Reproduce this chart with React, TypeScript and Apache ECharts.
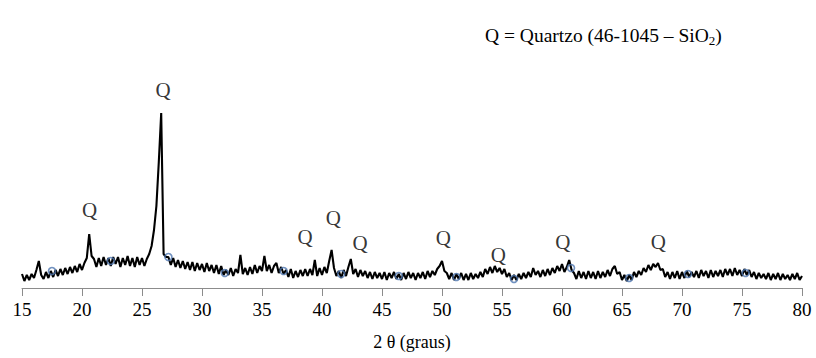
import React, { useEffect, useRef } from "react";
import * as echarts from "echarts";

// 2θ start / step of the diffractogram (degrees)
const thetaStart = 15;
const thetaStep = 0.2;

// Intensity (arbitrary units), one value per 0.2° from 15° to 80°
const intensity: number[] = [
  // 15
  14, 7, 13, 8, 14,
  // 16
  10, 18, 27, 13, 9,
  // 17
  16, 10, 17, 11, 18,
  // 18
  12, 19, 13, 20, 14,
  // 19
  21, 15, 22, 16, 24,
  // 20
  18, 25, 30, 54, 32,
  // 21
  29, 21, 30, 22, 31,
  // 22
  23, 30, 22, 31, 24,
  // 23
  31, 21, 30, 23, 32,
  // 24
  22, 30, 21, 31, 23,
  // 25
  30, 22, 29, 34, 42,
  // 26
  58, 82, 126, 175, 34,
  // 27
  31, 31, 23, 30, 21,
  // 28
  28, 20, 27, 19, 26,
  // 29
  18, 26, 17, 25, 18,
  // 30
  24, 16, 25, 17, 23,
  // 31
  15, 23, 14, 22, 13,
  // 32
  18, 13, 20, 12, 19,
  // 33
  15, 33, 14, 20, 13,
  // 34
  21, 14, 23, 15, 22,
  // 35
  17, 32, 17, 23, 15,
  // 36
  22, 25, 15, 21, 14,
  // 37
  18, 11, 19, 10, 17,
  // 38
  11, 18, 12, 19, 12,
  // 39
  19, 13, 28, 12, 20,
  // 40
  13, 21, 15, 27, 38,
  // 41
  20, 12, 17, 10, 18,
  // 42
  12, 21, 29, 14, 19,
  // 43
  11, 18, 12, 17, 10,
  // 44
  16, 9, 16, 10, 15,
  // 45
  9, 16, 8, 15, 10,
  // 46
  16, 9, 14, 8, 15,
  // 47
  9, 16, 10, 15, 8,
  // 48
  15, 10, 16, 9, 17,
  // 49
  11, 17, 13, 19, 22,
  // 50
  27, 17, 15, 9, 15,
  // 51
  8, 14, 9, 15, 8,
  // 52
  14, 8, 15, 9, 14,
  // 53
  10, 16, 11, 19, 14,
  // 54
  21, 15, 22, 16, 20,
  // 55
  14, 19, 11, 15, 8,
  // 56
  13, 8, 14, 9, 15,
  // 57
  10, 16, 11, 20, 13,
  // 58
  17, 11, 18, 12, 19,
  // 59
  13, 20, 15, 22, 17,
  // 60
  24, 16, 21, 28, 18,
  // 61
  15, 9, 17, 10, 16,
  // 62
  9, 17, 10, 16, 9,
  // 63
  17, 10, 16, 11, 18,
  // 64
  12, 19, 22, 14, 16,
  // 65
  8, 13, 7, 13, 8,
  // 66
  16, 11, 17, 13, 20,
  // 67
  16, 23, 18, 24, 21,
  // 68
  25, 18, 19, 11, 16,
  // 69
  9, 16, 10, 17, 9,
  // 70
  16, 10, 17, 11, 16,
  // 71
  11, 17, 10, 18, 12,
  // 72
  17, 10, 18, 11, 17,
  // 73
  12, 18, 11, 19, 13,
  // 74
  19, 12, 20, 13, 18,
  // 75
  12, 19, 13, 18, 11,
  // 76
  16, 9, 15, 10, 14,
  // 77
  9, 15, 8, 14, 9,
  // 78
  15, 8, 14, 9, 13,
  // 79
  8, 14, 9, 15, 8,
  // 80
  12,
];

// Blue hollow marker positions (2θ) and their intensities
const markerTheta = [17.5, 22.4, 27.2, 31.9, 36.8, 41.6, 46.4, 51.2, 56.0, 60.75, 65.6, 70.5, 75.3];
const markerValue = [17, 27, 31, 15, 17, 14, 12, 11, 9, 20, 10, 14, 15];

// "Q" peak annotations (2θ, height of label centre)
const qTheta = [20.64, 26.75, 38.58, 40.94, 43.17, 50.11, 54.69, 60.06, 68.03];
const qHeight = [78, 198, 51, 70, 45, 50, 33, 46, 46];

// Axis ticks
const xMin = 15;
const xMax = 80;
const xInterval = 5;

const SERIF = "'Liberation Serif', 'DejaVu Serif', serif";

export default function App() {
  const ref = useRef<HTMLDivElement>(null);

  useEffect(() => {
    if (!ref.current) return;
    const chart = echarts.init(ref.current, undefined, { renderer: "svg" });

    const lineData = intensity.map((v, i) => [
      +(thetaStart + i * thetaStep).toFixed(2),
      v,
    ]);
    const markerData = markerTheta.map((t, i) => [t, markerValue[i]]);
    const qData = qTheta.map((t, i) => [t, qHeight[i]]);

    chart.setOption({
      animation: false,
      backgroundColor: "#ffffff",
      grid: { left: 22, right: 14, top: 88, bottom: 70 },
      xAxis: {
        type: "value",
        min: xMin,
        max: xMax,
        interval: xInterval,
        name: "2 θ (graus)",
        nameLocation: "middle",
        nameGap: 45,
        nameTextStyle: { fontFamily: SERIF, fontSize: 18, color: "#000" },
        axisLine: { show: true, onZero: false, lineStyle: { color: "#8c8c8c", width: 1 } },
        axisTick: { show: true, inside: false, length: 8, lineStyle: { color: "#8c8c8c" } },
        axisLabel: { fontFamily: SERIF, fontSize: 19, color: "#000", margin: 12 },
        splitLine: { show: false },
      },
      yAxis: {
        type: "value",
        min: 0,
        max: 200,
        show: false,
        splitLine: { show: false },
      },
      series: [
        {
          type: "line",
          data: lineData,
          showSymbol: false,
          symbol: "none",
          lineStyle: { color: "#000", width: 2.1 },
          clip: false,
          z: 2,
        },
        {
          type: "scatter",
          data: markerData,
          symbol: "circle",
          symbolSize: 7,
          itemStyle: { color: "rgba(0,0,0,0)", borderColor: "#4f77b0", borderWidth: 1.6 },
          z: 3,
        },
        {
          type: "scatter",
          data: qData,
          symbolSize: 0,
          clip: false,
          label: {
            show: true,
            position: "inside",
            formatter: "Q",
            fontFamily: SERIF,
            fontSize: 21,
            color: "#000",
          },
          z: 4,
        },
      ],
      graphic: [
        {
          type: "text",
          left: 485,
          top: 25,
          style: {
            text: "Q = Quartzo (46-1045 – SiO{sub|2})",
            fontFamily: SERIF,
            fontSize: 19.5,
            fill: "#000",
            rich: {
              sub: { fontFamily: SERIF, fontSize: 13, verticalAlign: "bottom", padding: [10, 0, 0, 0] },
            },
          },
        },
      ],
    });

    return () => chart.dispose();
  }, []);

  return (
    <div
      ref={ref}
      style={{ position: "absolute", left: 0, top: 0, width: 816, height: 358 }}
    />
  );
}
